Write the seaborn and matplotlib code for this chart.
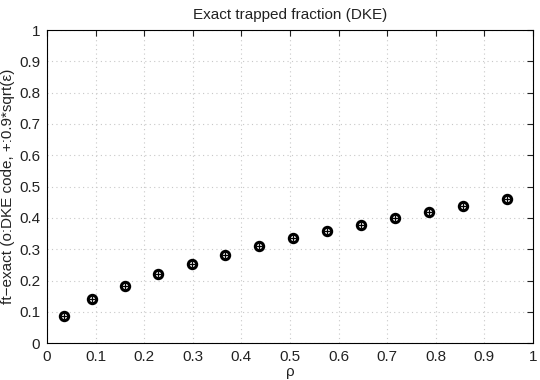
import matplotlib
matplotlib.use("Agg")
import matplotlib.pyplot as plt
import seaborn as sns
import pandas as pd

rho = [0.036, 0.093, 0.160, 0.228, 0.298, 0.366, 0.436, 0.506, 0.576, 0.646, 0.716, 0.786, 0.856, 0.946]
ft_dke = [0.087, 0.140, 0.184, 0.220, 0.253, 0.283, 0.310, 0.335, 0.358, 0.378, 0.400, 0.419, 0.438, 0.460]
ft_approx = [0.087, 0.140, 0.184, 0.220, 0.253, 0.283, 0.310, 0.335, 0.358, 0.378, 0.400, 0.419, 0.438, 0.460]
ticks = [0, 0.1, 0.2, 0.3, 0.4, 0.5, 0.6, 0.7, 0.8, 0.9, 1]
tick_labels = ["0", "0.1", "0.2", "0.3", "0.4", "0.5", "0.6", "0.7", "0.8", "0.9", "1"]

sns.set_style("white")
plt.rcParams['font.family'] = ['Liberation Sans', 'DejaVu Sans']

df = pd.DataFrame({"rho": rho, "dke": ft_dke, "approx": ft_approx})

fig = plt.figure(figsize=(5.4, 3.8), dpi=100)
ax = fig.add_axes([0.087, 0.097, 0.900, 0.824])

sns.scatterplot(data=df, x="rho", y="dke", ax=ax, marker="o", s=36,
                facecolor="white", edgecolor="black", linewidth=2.2, zorder=3)
sns.scatterplot(data=df, x="rho", y="approx", ax=ax, marker="+", s=22,
                color="black", linewidth=0.9, zorder=4)

ax.set_xlim(0, 1)
ax.set_ylim(0, 1)
ax.set_xticks(ticks)
ax.set_xticklabels(tick_labels)
ax.set_yticks(ticks)
ax.set_yticklabels(tick_labels)
ax.grid(True, linestyle=(0, (1, 3)), color="#c8c8c8", linewidth=0.8)
ax.tick_params(direction="in", length=4, width=0.8, labelsize=11, colors="#222222",
               top=True, right=True, pad=5)
for s in ax.spines.values():
    s.set_visible(True)
    s.set_color("black")
    s.set_linewidth(0.8)

ax.set_xlabel("ρ", fontsize=11, labelpad=1, color="#222222")
ax.set_ylabel("ft−exact (o:DKE code, +:0.9*sqrt(ε)", fontsize=11, labelpad=3, color="#222222")
ax.set_title("Exact trapped fraction (DKE)", fontsize=11, pad=8, color="#222222")

fig.savefig("out.png", dpi=100)
